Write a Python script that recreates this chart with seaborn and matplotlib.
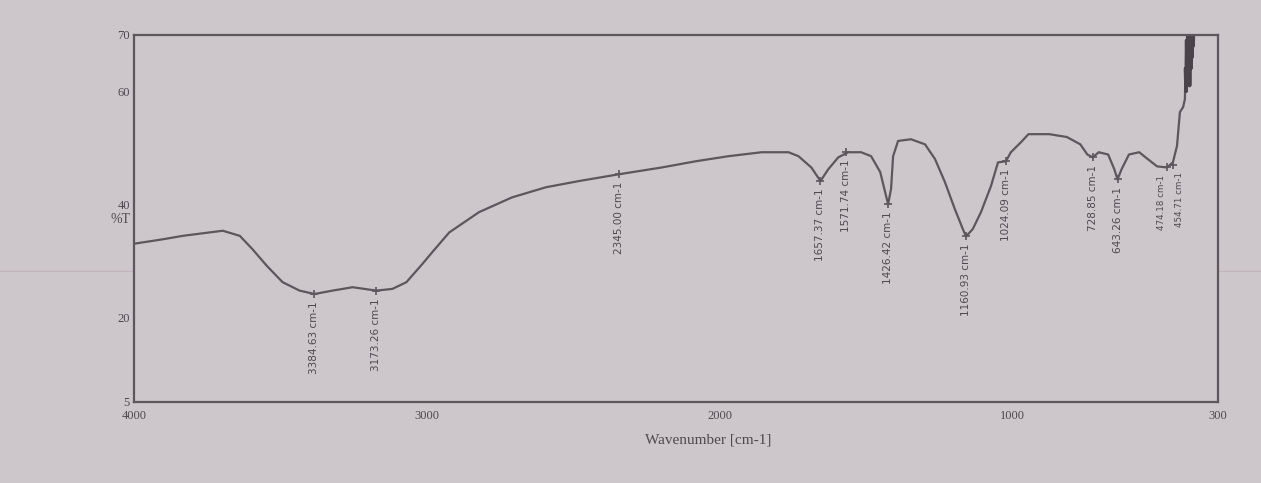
import matplotlib
matplotlib.use("Agg")
import matplotlib.pyplot as plt
from matplotlib.lines import Line2D
import seaborn as sns
import pandas as pd

# ---- data ----
wavenumber = [4000, 3900, 3833, 3697, 3639, 3595, 3547, 3493, 3435, 3384, 3322, 3254,
              3173, 3118, 3070, 3016, 2982, 2924, 2822, 2710, 2594, 2481, 2345, 2199,
              2083, 1971, 1858, 1766, 1732, 1688, 1657, 1630, 1596, 1562, 1518, 1484,
              1453, 1436, 1426, 1416, 1409, 1392, 1348, 1300, 1266, 1232, 1198, 1171,
              1160, 1137, 1109, 1075, 1051, 1024, 1007, 972, 947, 876, 816, 770, 746,
              728, 707, 675, 654, 643, 629, 604, 569, 540, 508, 474, 454, 440, 430,
              419, 413, 411, 409, 407, 405, 403, 401, 399, 397, 395, 393, 391, 389,
              387, 385, 383]
transmittance = [33.0, 33.8, 34.4, 35.3, 34.4, 32.0, 29.1, 26.2, 24.7, 24.1, 24.7, 25.3,
                 24.7, 25.0, 26.2, 29.4, 31.5, 35.0, 38.6, 41.2, 43.0, 44.1, 45.3, 46.5,
                 47.6, 48.5, 49.2, 49.2, 48.5, 46.5, 44.1, 46.2, 48.3, 49.2, 49.2, 48.5,
                 45.7, 42.1, 40.0, 42.7, 48.5, 51.2, 51.5, 50.6, 48.0, 43.9, 39.1, 35.6,
                 34.3, 35.6, 38.6, 43.2, 47.4, 47.6, 49.2, 51.0, 52.4, 52.4, 51.9, 50.6,
                 48.8, 48.3, 49.2, 48.8, 46.2, 44.4, 46.2, 48.8, 49.2, 48.0, 46.7, 46.5,
                 47.4, 50.3, 56.3, 57.2, 58.6, 64.0, 60.0, 69.0, 62.0, 71.0, 63.0, 72.0,
                 61.0, 70.0, 64.0, 72.0, 66.0, 71.0, 68.0, 72.0]

peak_wn = [3384, 3173, 2345, 1657, 1571, 1426, 1160, 1024, 728, 643, 474, 454]
peak_t = [24.1, 24.7, 45.3, 44.1, 49.2, 40.0, 34.3, 47.6, 48.3, 44.4, 46.5, 47.0]
peak_labels = ["3384.63 cm-1", "3173.26 cm-1", "2345.00 cm-1", "1657.37 cm-1",
               "1571.74 cm-1", "1426.42 cm-1", "1160.93 cm-1", "1024.09 cm-1",
               "728.85 cm-1", "643.26 cm-1", "474.18 cm-1", "454.71 cm-1"]
peak_dx = [0, 0, 0, 0, 0, 0, 0, 0, 0, 0, -4, 5]     # small nudges (points) to separate crowded labels

x_ticks = [4000, 3000, 2000, 1000, 300]
x_ticklabels = ["4000", "3000", "2000", "1000", "300"]
x_minor = [3500, 2500, 1500, 500]
y_ticks = [5, 20, 40, 60, 70]
y_ticklabels = ["5", "20", "40", "60", "70"]
y_minor = [10, 30, 50]

# ---- style ----
paper = "#cdc7cc"
ink = "#5d575d"
sns.set_theme(style="white")
plt.rcParams["font.family"] = ["Liberation Serif", "DejaVu Serif"]

fig = plt.figure(figsize=(12.61, 4.83), dpi=100, facecolor=paper)
ax = fig.add_axes([134 / 1261, 0.168, (1218 - 134) / 1261, 0.760])
ax.set_facecolor(paper)

df = pd.DataFrame({"wn": wavenumber, "T": transmittance})
sns.lineplot(data=df, x="wn", y="T", sort=False, estimator=None,
             color=ink, linewidth=1.6, ax=ax)

# thick noisy end section
ax.plot(wavenumber[-15:], transmittance[-15:], color="#4a444a", linewidth=2.6,
        clip_on=True)

# peak markers and labels
for w, t, lab, dx in zip(peak_wn, peak_t, peak_labels, peak_dx):
    ax.plot([w], [t], marker="+", markersize=6, color=ink, mew=1.2)
    ax.annotate(lab, xy=(w, t - 1.3), xytext=(dx, 0), textcoords="offset points",
                rotation=90, ha="center", va="top",
                fontsize=7.5 if dx == 0 else 6.3, color="#4f494f",
                family=["DejaVu Sans"])

ax.set_xlim(4000, 300)
ax.set_ylim(5, 70)
ax.set_xticks(x_ticks)
ax.set_xticklabels(x_ticklabels)
ax.set_xticks(x_minor, minor=True)
ax.set_yticks(y_ticks)
ax.set_yticklabels(y_ticklabels)
ax.set_yticks(y_minor, minor=True)
ax.tick_params(axis="both", which="major", direction="in", length=6, width=1.2,
               colors=ink, labelsize=9, labelcolor="#4f494f")
ax.tick_params(axis="both", which="minor", direction="in", length=4, width=1.0,
               colors=ink)
ax.tick_params(axis="x", pad=6)
ax.tick_params(axis="y", pad=3)

for s in ax.spines.values():
    s.set_visible(True)
    s.set_color(ink)
    s.set_linewidth(1.6)

ax.set_xlabel("Wavenumber [cm-1]", fontsize=11, color="#4f494f")
ax.xaxis.set_label_coords(0.53, -0.085)
ax.set_ylabel("%T", fontsize=10, color="#4f494f", rotation=0)
ax.yaxis.set_label_coords(-0.012, 0.48)

# faint fold line across the paper
fig.add_artist(Line2D([0, 1], [1 - 271 / 483, 1 - 271 / 483], transform=fig.transFigure,
                      color="#bdaeb8", linewidth=0.8, alpha=0.8, zorder=0))

fig.savefig("out.png", dpi=100, facecolor=paper)
